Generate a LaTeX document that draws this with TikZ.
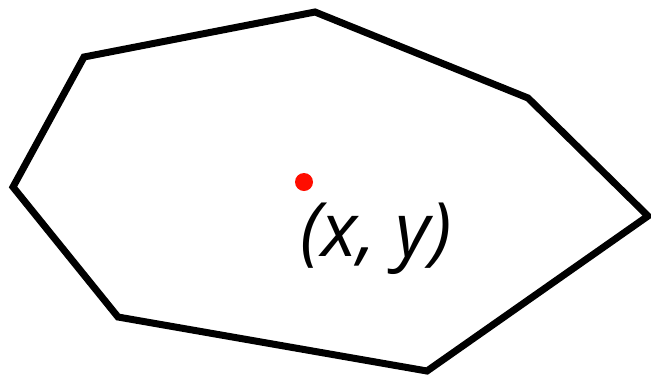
\documentclass[tikz,border=0pt]{standalone}
\usepackage{fontspec}
\setsansfont{Open Sans}
\usetikzlibrary{positioning}

\begin{document}
\begin{tikzpicture}[
				x=1pt, y=-1pt,
				outline/.style={draw=black, line width=7pt, line join=miter},
				centre/.style={circle, fill=red!90!orange, inner sep=0pt, minimum size=18pt},
				label/.style={font=\fontsize{75}{80}\selectfont\sffamily\itshape, inner sep=0pt, anchor=north west}
			]
			\useasboundingbox (0,0) rectangle (651,376);

			% Eckpunkte des Polygons
			\coordinate (p1) at (84,57);
			\coordinate (p2) at (315,12);
			\coordinate (p3) at (528,98);
			\coordinate (p4) at (648,216);
			\coordinate (p5) at (427,371);
			\coordinate (p6) at (118,317);
			\coordinate (p7) at (13,187);

			\draw[outline] (p1) -- (p2) -- (p3) -- (p4) -- (p5) -- (p6) -- (p7) -- cycle;

			% Mittelpunkt und Beschriftung
			\node[centre] (mid) at (304,182) {};
			\node[label] (coord) at (300,203) {(x, y)};

		\end{tikzpicture}
\end{document}
